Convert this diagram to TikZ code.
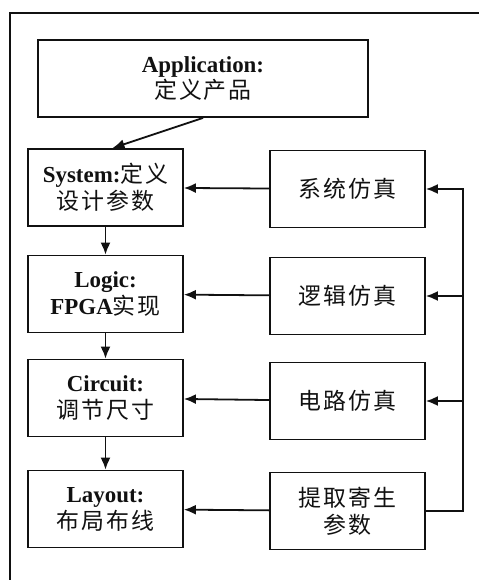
\documentclass[tikz,border=0pt]{standalone}
\usepackage{fontspec}
\setmainfont{Liberation Serif}
\newfontfamily\cjk[LetterSpace=8]{Noto Sans CJK SC}
\usetikzlibrary{arrows.meta, positioning, calc}
\definecolor{ink}{HTML}{111111}

\tikzset{
  stagebox/.style={draw=ink, line width=1.8pt, minimum width=155bp, minimum height=77bp,
                   align=center, inner sep=2pt, text=ink,
                   font=\fontsize{23}{27}\selectfont\bfseries},
  simbox/.style={stagebox},
  flow/.style={draw=ink, line width=1.8pt, -{Latex[length=12bp, width=10bp]}}
}

\begin{document}
\begin{tikzpicture}[x=1bp, y=-1bp]

% Frame
\useasboundingbox (0,0) rectangle (479,580);
\draw[ink, line width=1.4pt] (10,580) -- (10,13) -- (479,13);

% Top stage
\node[stagebox, minimum width=330bp] (app) at (203,78.5)
  {Application:\\{\cjk\mdseries 定义产品}};

% Design stages (left column)
\node[stagebox] (sys) at (105.5,187.5) {System:{\cjk\mdseries 定义}\\{\cjk\mdseries 设计参数}};
\node[stagebox] (logic) at (105.5,294) {Logic:\\FPGA{\cjk\mdseries 实现}};
\node[stagebox] (circ) at (105.5,398) {Circuit:\\{\cjk\mdseries 调节尺寸}};
\node[stagebox] (lay) at (105.5,509) {Layout:\\{\cjk\mdseries 布局布线}};

% Simulation stages (right column)
\node[simbox] (simsys) at (347.5,189) {\cjk\mdseries 系统仿真};
\node[simbox] (simlogic) at (347.5,296) {\cjk\mdseries 逻辑仿真};
\node[simbox] (simcirc) at (347.5,401) {\cjk\mdseries 电路仿真};
\node[simbox] (extract) at (347.5,511) {{\cjk\mdseries 提取寄生}\\{\cjk\mdseries 参数}};

% Downward flow
\draw[flow] (app.south) -- ([xshift=7bp]sys.north);
\draw[flow] (sys) -- (logic);
\draw[flow] (logic) -- (circ);
\draw[flow] (circ) -- (lay);

% Simulation results back to stages
\draw[flow] (simsys) -- (sys);
\draw[flow] (simlogic) -- (logic);
\draw[flow] (simcirc) -- (circ);
\draw[flow] (extract) -- (lay);

% Feedback bus from extraction
\coordinate (busbot) at (463,511);
\coordinate (bustop) at (463,189);
\coordinate (buslogic) at (463,296);
\coordinate (buscirc) at (463,401);
\draw[flow] (extract.east) -- (busbot) -- (bustop) -- (simsys.east);
\draw[flow] (buslogic) -- (simlogic.east);
\draw[flow] (buscirc) -- (simcirc.east);

\end{tikzpicture}
\end{document}
